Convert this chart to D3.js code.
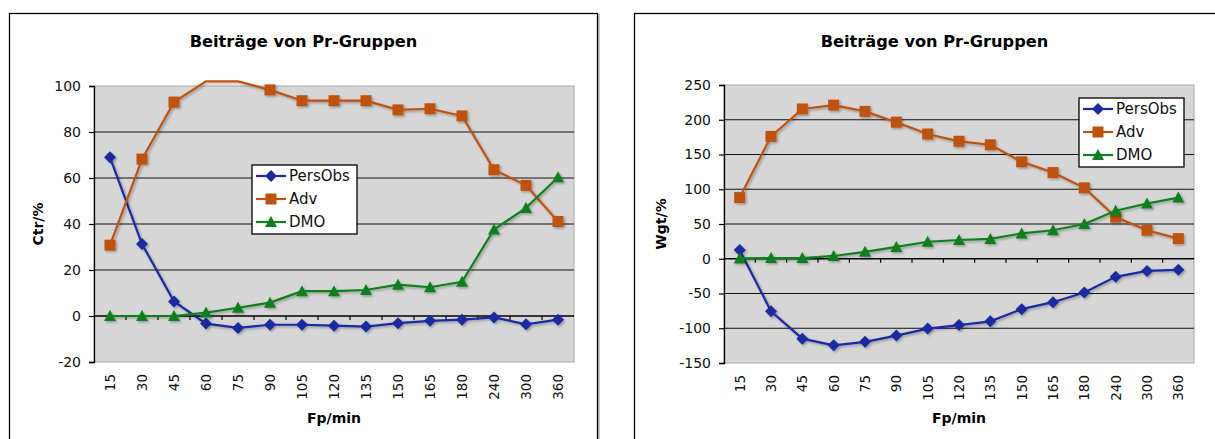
<!DOCTYPE html>
<html>
<head>
<meta charset="utf-8">
<script src="https://cdn.jsdelivr.net/npm/d3@7"></script>
<style>
  body { margin: 0; background: #fff; }
  svg { display: block; font-family: "DejaVu Sans", Verdana, sans-serif; }
</style>
</head>
<body>
<div id="vis"></div>
<script>
// categories (Fp/min)
const categories = ["15", "30", "45", "60", "75", "90", "105", "120", "135", "150", "165", "180", "240", "300", "360"];
const seriesNames = ["PersObs", "Adv", "DMO"];

// left chart: Ctr/%
const ctrPersObs = [69, 31.3, 6.3, -3.3, -5.2, -3.8, -3.8, -4.2, -4.6, -3.1, -2.1, -1.6, -0.6, -3.6, -1.6];
const ctrAdv = [30.8, 68.2, 93, 102, 102, 98.3, 93.6, 93.6, 93.6, 89.6, 90.1, 87, 63.6, 56.8, 41.1];
const ctrDmo = [0, 0, 0, 1.5, 3.6, 5.8, 10.8, 10.8, 11.3, 13.6, 12.5, 14.9, 37.6, 47, 60.3];
const ctrTicks = [-20, 0, 20, 40, 60, 80, 100];

// right chart: Wgt/%
const wgtPersObs = [12.5, -75.5, -115, -124.5, -119.5, -110.5, -100.5, -95.5, -90, -72.5, -62.5, -48.5, -26, -17.5, -16];
const wgtAdv = [88, 176, 215.5, 221, 212, 196.5, 179.5, 169, 164, 139.5, 124, 102, 60, 41, 29];
const wgtDmo = [0.5, 1, 1, 4, 10, 17, 24.5, 27, 28.5, 36.5, 41, 50, 69, 79.5, 88];
const wgtTicks = [-150, -100, -50, 0, 50, 100, 150, 200, 250];

const colours = ["#1a2aa2", "#bf520f", "#10801f"];
const markers = ["diamond", "square", "triangle"];

const svg = d3.select("#vis").append("svg")
  .attr("width", 1215)
  .attr("height", 439);

// soft shadow like the spreadsheet rendering
const defs = svg.append("defs");
defs.append("filter").attr("id", "shadow")
  .attr("x", "-20%").attr("y", "-20%").attr("width", "140%").attr("height", "140%")
  .append("feDropShadow")
  .attr("dx", 1.5).attr("dy", 1.5).attr("stdDeviation", 0.8)
  .attr("flood-color", "#000").attr("flood-opacity", 0.3);

function markerPath(type) {
  if (type === "diamond") return "M0,-6L6,0L0,6L-6,0Z";
  if (type === "square") return "M-5.5,-5.5H5.5V5.5H-5.5Z";
  return "M0,-6L6,5H-6Z";
}

function drawChart(cfg) {
  const g = svg.append("g");

  // outer frame with a grey shadow line
  g.append("rect")
    .attr("x", cfg.frame[0] + 1.5).attr("y", cfg.frame[1] + 1.5)
    .attr("width", cfg.frame[2]).attr("height", cfg.frame[3])
    .attr("fill", "none").attr("stroke", "#b8b8b8").attr("stroke-width", 1.5);
  g.append("rect")
    .attr("x", cfg.frame[0]).attr("y", cfg.frame[1])
    .attr("width", cfg.frame[2]).attr("height", cfg.frame[3])
    .attr("fill", "#fff").attr("stroke", "#000").attr("stroke-width", 1.3);

  const x = d3.scaleBand()
    .domain(categories)
    .range([cfg.left, cfg.right]);
  const y = d3.scaleLinear()
    .domain(d3.extent(cfg.ticks))
    .range([cfg.bottom, cfg.top]);
  const cx = d => x(d) + x.bandwidth() / 2;

  // plot area
  g.append("rect")
    .attr("x", cfg.left).attr("y", cfg.top)
    .attr("width", cfg.right - cfg.left).attr("height", cfg.bottom - cfg.top)
    .attr("fill", "#d6d6d6").attr("stroke", "#a8a8a8").attr("stroke-width", 1);

  // gridlines
  g.append("g")
    .selectAll("line")
    .data(cfg.ticks.filter(t => t !== y.domain()[0] && t !== y.domain()[1] && t !== 0))
    .join("line")
    .attr("x1", cfg.left).attr("x2", cfg.right)
    .attr("y1", d => y(d)).attr("y2", d => y(d))
    .attr("stroke", "#111").attr("stroke-width", 1.2);

  // category axis sits on zero
  const xAxis = g.append("g").attr("transform", `translate(0,${y(0)})`);
  xAxis.append("line")
    .attr("x1", cfg.left).attr("x2", cfg.right)
    .attr("stroke", "#000").attr("stroke-width", 1.3);
  xAxis.selectAll(".tk")
    .data(categories.slice(1))
    .join("line")
    .attr("class", "tk")
    .attr("x1", d => x(d)).attr("x2", d => x(d))
    .attr("y1", 0).attr("y2", 4)
    .attr("stroke", "#000").attr("stroke-width", 1.2);

  // category labels, rotated, below the plot
  g.append("g")
    .selectAll("text")
    .data(categories)
    .join("text")
    .attr("transform", d => `translate(${cx(d)},${cfg.bottom + 12}) rotate(-90)`)
    .attr("dy", "0.36em")
    .attr("text-anchor", "end")
    .attr("font-size", 13.5)
    .attr("fill", "#111")
    .text(d => d);

  // value axis
  const yAxis = g.append("g")
    .attr("transform", `translate(${cfg.left},0)`)
    .call(d3.axisLeft(y).tickValues(cfg.ticks).tickSize(5).tickPadding(8).tickFormat(d => String(d)));
  yAxis.select(".domain").attr("stroke", "#000").attr("stroke-width", 1.3);
  yAxis.selectAll(".tick line").attr("stroke", "#000").attr("stroke-width", 1.2);
  yAxis.selectAll("text")
    .attr("font-size", 14)
    .attr("font-family", "DejaVu Sans, Verdana, sans-serif")
    .attr("fill", "#111");

  // titles
  g.append("text")
    .attr("x", cfg.frame[0] + cfg.frame[2] / 2).attr("y", 47)
    .attr("text-anchor", "middle")
    .attr("font-size", 16.2).attr("font-weight", "bold")
    .text("Beiträge von Pr-Gruppen");
  g.append("text")
    .attr("x", (cfg.left + cfg.right) / 2).attr("y", 423)
    .attr("text-anchor", "middle")
    .attr("font-size", 14).attr("font-weight", "bold")
    .text("Fp/min");
  g.append("text")
    .attr("transform", `translate(${cfg.yLabelX},${(cfg.top + cfg.bottom) / 2}) rotate(-90)`)
    .attr("text-anchor", "middle")
    .attr("font-size", 14).attr("font-weight", "bold")
    .text(cfg.yLabel);

  // series
  const line = d3.line().x((d, i) => cx(categories[i])).y(d => y(d));
  cfg.series.forEach((vals, s) => {
    const sg = g.append("g").attr("filter", "url(#shadow)");
    sg.append("path")
      .attr("d", line(vals))
      .attr("fill", "none")
      .attr("stroke", colours[s])
      .attr("stroke-width", 2.2);
    sg.selectAll("path.m")
      .data(vals.map((v, i) => ({ v, c: categories[i] })).filter(d => d.v <= y.domain()[1]))
      .join("path")
      .attr("class", "m")
      .attr("transform", d => `translate(${cx(d.c)},${y(d.v)})`)
      .attr("d", markerPath(markers[s]))
      .attr("fill", colours[s]);
  });

  // legend
  const lg = g.append("g").attr("transform", `translate(${cfg.legend[0]},${cfg.legend[1]})`);
  lg.append("rect")
    .attr("width", 105).attr("height", 69)
    .attr("fill", "#fff").attr("stroke", "#000").attr("stroke-width", 1.3);
  seriesNames.forEach((name, s) => {
    const row = lg.append("g").attr("transform", `translate(0,${11 + s * 23})`);
    row.append("line")
      .attr("x1", 4).attr("x2", 34)
      .attr("stroke", colours[s]).attr("stroke-width", 2.2);
    row.append("path")
      .attr("transform", "translate(19,0)")
      .attr("d", markerPath(markers[s]))
      .attr("fill", colours[s]);
    row.append("text")
      .attr("x", 37).attr("dy", "0.36em")
      .attr("font-size", 15).attr("fill", "#111")
      .text(name);
  });
}

drawChart({
  frame: [9.5, 13.5, 588, 440],
  left: 94, right: 574, top: 86, bottom: 362,
  ticks: ctrTicks,
  yLabel: "Ctr/%", yLabelX: 43,
  series: [ctrPersObs, ctrAdv, ctrDmo],
  legend: [252, 165]
});

drawChart({
  frame: [634.5, 13.5, 600, 440],
  left: 724, right: 1194, top: 85, bottom: 363,
  ticks: wgtTicks,
  yLabel: "Wgt/%", yLabelX: 666,
  series: [wgtPersObs, wgtAdv, wgtDmo],
  legend: [1079, 98]
});
</script>
</body>
</html>
